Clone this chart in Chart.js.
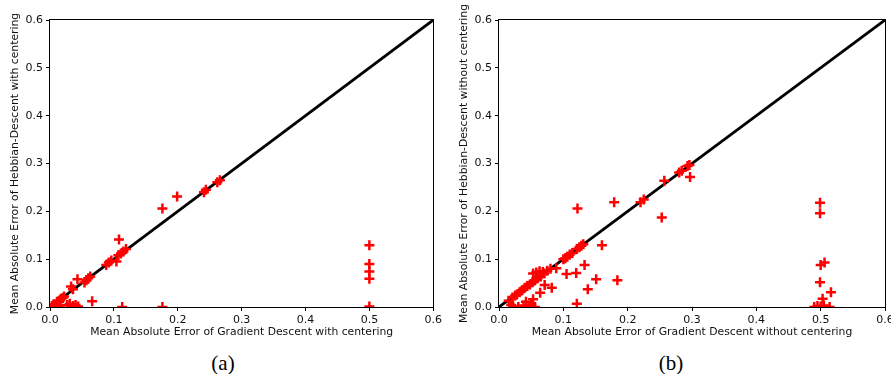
<!DOCTYPE html>
<html lang="en">
<head>
    <meta charset="UTF-8">
    <title>Hebbian vs Gradient Descent</title>
    <script src="https://cdn.jsdelivr.net/npm/chart.js"></script>
    <style>
        html, body { margin: 0; padding: 0; background: #fff; overflow: hidden; width: 891px; height: 374px; }
        .panel { position: absolute; top: 0; height: 338px; }
        .caption { position: absolute; top: 351px; font-family: "Liberation Serif", serif; font-size: 21px; line-height: 24px; color: #000; transform: translateX(-50%); }
    </style>
</head>
<body>
<div class="panel" style="left:0; width:445px;"><canvas id="chartA"></canvas></div>
<div class="panel" style="left:449px; width:450px;"><canvas id="chartB"></canvas></div>
<div class="caption" style="left:223px;">(a)</div>
<div class="caption" style="left:671px;">(b)</div>

<script>
    const tickValues = [0, 0.1, 0.2, 0.3, 0.4, 0.5, 0.6];

    // (a) with centering
    const gdWithCentering = [0.003, 0.006, 0.009, 0.011, 0.014, 0.017, 0.020, 0.012, 0.016, 0.022,
        0.027, 0.031, 0.036, 0.040, 0.044, 0.033, 0.036, 0.043, 0.054, 0.057,
        0.060, 0.063, 0.066, 0.088, 0.092, 0.096, 0.104, 0.108, 0.107, 0.111,
        0.115, 0.119, 0.113, 0.176, 0.199, 0.176, 0.241, 0.244, 0.262, 0.266,
        0.500, 0.500, 0.500, 0.500, 0.500];
    const hdWithCentering = [0.002, 0.006, 0.004, 0.011, 0.013, 0.017, 0.019, 0.001, 0.003, 0.022,
        0.004, 0.007, 0.002, 0.004, 0.001, 0.043, 0.037, 0.058, 0.051, 0.056,
        0.060, 0.064, 0.012, 0.088, 0.093, 0.097, 0.095, 0.141, 0.108, 0.112,
        0.116, 0.121, 0.000, 0.206, 0.231, 0.000, 0.240, 0.245, 0.261, 0.265,
        0.129, 0.090, 0.074, 0.059, 0.001];

    // (b) without centering
    const gdWithoutCentering = [0.015, 0.019, 0.021, 0.025, 0.028, 0.032, 0.036, 0.040, 0.044, 0.048,
        0.052, 0.056, 0.060, 0.065, 0.070, 0.075, 0.080, 0.053, 0.058, 0.063,
        0.068, 0.089, 0.100, 0.103, 0.106, 0.110, 0.114, 0.121, 0.125, 0.128,
        0.131, 0.105, 0.120, 0.133, 0.138, 0.151, 0.160, 0.184, 0.121, 0.082,
        0.071, 0.064, 0.053, 0.042, 0.022, 0.030, 0.038, 0.046, 0.050, 0.056,
        0.122, 0.179, 0.220, 0.225, 0.253, 0.257, 0.280, 0.284, 0.293, 0.296,
        0.297, 0.499, 0.499, 0.500, 0.506, 0.499, 0.516, 0.503, 0.490, 0.495,
        0.500, 0.505, 0.514];
    const hdWithoutCentering = [0.013, 0.004, 0.020, 0.024, 0.026, 0.031, 0.035, 0.040, 0.044, 0.047,
        0.052, 0.056, 0.060, 0.064, 0.070, 0.076, 0.080, 0.070, 0.072, 0.075,
        0.073, 0.081, 0.100, 0.102, 0.105, 0.110, 0.113, 0.121, 0.125, 0.128,
        0.131, 0.069, 0.071, 0.088, 0.037, 0.058, 0.129, 0.056, 0.007, 0.040,
        0.046, 0.030, 0.016, 0.011, 0.001, 0.000, 0.003, 0.002, 0.004, 0.000,
        0.206, 0.219, 0.219, 0.225, 0.187, 0.264, 0.281, 0.285, 0.295, 0.297,
        0.272, 0.218, 0.196, 0.088, 0.093, 0.052, 0.031, 0.017, 0.000, 0.002,
        0.001, 0.003, 0.000];

    const diagonal = [0, 0.6];

    // full box around the plot area, like matplotlib spines
    const frame = {
        id: 'frame',
        afterDraw(chart) {
            const { ctx, chartArea: a } = chart;
            ctx.save();
            ctx.strokeStyle = '#000';
            ctx.lineWidth = 1;
            ctx.strokeRect(Math.round(a.left) - 0.5, Math.round(a.top) - 0.5,
                Math.round(a.right - a.left) + 1, Math.round(a.bottom - a.top) + 1);
            ctx.restore();
        }
    };

    const tickFont = { family: 'DejaVu Sans', size: 11 };
    const titleFont = { family: 'DejaVu Sans', size: 10.8, lineHeight: 1 };

    function axis(title, titlePad, extra) {
        return Object.assign({
            type: 'linear',
            min: 0,
            max: 0.6,
            afterBuildTicks: s => { s.ticks = tickValues.map(v => ({ value: v })); },
            ticks: { color: '#111', font: tickFont, padding: 3, callback: v => v.toFixed(1) },
            grid: { drawOnChartArea: false, drawTicks: true, tickLength: 4, color: '#000' },
            border: { display: false },
            title: { display: true, text: title, color: '#111', font: titleFont, padding: titlePad }
        }, extra);
    }

    function makeChart(id, xs, ys, xTitle, yTitle, rightPad) {
        const points = xs.map((x, i) => ({ x: x, y: ys[i] }));
        const line = diagonal.map(v => ({ x: v, y: v }));
        new Chart(document.getElementById(id), {
            type: 'scatter',
            data: {
                datasets: [
                    {
                        data: points,
                        pointStyle: 'cross',
                        pointRadius: 5,
                        pointBorderWidth: 2.5,
                        borderColor: '#ff0000',
                        backgroundColor: '#ff0000',
                        clip: 0
                    },
                    {
                        type: 'line',
                        data: line,
                        borderColor: '#000',
                        borderWidth: 2.8,
                        pointRadius: 0,
                        fill: false
                    }
                ]
            },
            options: {
                responsive: true,
                maintainAspectRatio: false,
                animation: false,
                events: [],
                layout: { padding: { top: 20, right: rightPad, left: 0, bottom: 0 } },
                plugins: { legend: { display: false }, tooltip: { enabled: false } },
                scales: {
                    x: axis(xTitle, { top: 0, bottom: 0 }, {
                        position: 'bottom',
                        afterFit: s => { s.height = 31; }
                    }),
                    y: axis(yTitle, { top: 10, bottom: 0 }, {
                        position: 'left',
                        afterFit: s => { s.width = 50; }
                    })
                }
            },
            plugins: [frame]
        });
    }

    makeChart('chartA', gdWithCentering, hdWithCentering,
        'Mean Absolute Error of Gradient Descent with centering',
        'Mean Absolute Error of Hebbian-Descent with centering', 9);
    makeChart('chartB', gdWithoutCentering, hdWithoutCentering,
        'Mean Absolute Error of Gradient Descent without centering',
        'Mean Absolute Error of Hebbian-Descent without centering', 14);
</script>
</body>
</html>
